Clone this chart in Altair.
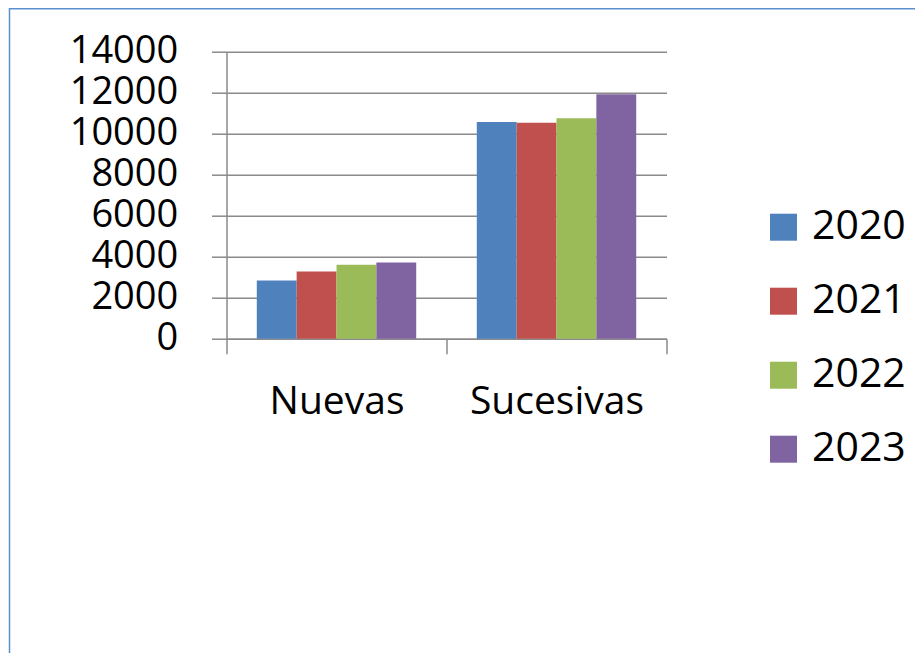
import altair as alt
import pandas as pd

categorias = ["Nuevas", "Sucesivas"]
anios = ["2020", "2021", "2022", "2023"]
nuevas = [2840, 3280, 3610, 3720]
sucesivas = [10570, 10540, 10750, 11920]
colores = ["#4F81BD", "#C0504D", "#9BBB59", "#8064A2"]
y_ticks = [0, 2000, 4000, 6000, 8000, 10000, 12000, 14000]

rows = []
for a, n, s in zip(anios, nuevas, sucesivas):
    rows.append({"categoria": "Nuevas", "anio": a, "valor": n})
    rows.append({"categoria": "Sucesivas", "anio": a, "valor": s})
df = pd.DataFrame(rows)

FONT = "Open Sans"
GRAY = "#8a8a8a"
PL, PT = 218.5, 43.7
W, H = 440, 287
TOTAL_W, TOTAL_H = 907, 645
PR = TOTAL_W - PL - W
PB = TOTAL_H - PT - H

bars = alt.Chart(df).mark_bar().encode(
    x=alt.X("categoria:N", sort=categorias,
            scale=alt.Scale(paddingInner=0, paddingOuter=0),
            axis=alt.Axis(title=None, labelAngle=0, tickBand="extent", tickSize=15,
                          labelPadding=29, labelFontSize=39, labelFont=FONT,
                          labelColor="black", domainColor=GRAY, tickColor=GRAY,
                          domainWidth=1.5, tickWidth=1.5, grid=False)),
    xOffset=alt.XOffset("anio:N", sort=anios,
                        scale=alt.Scale(paddingInner=0, paddingOuter=0.76)),
    y=alt.Y("valor:Q", scale=alt.Scale(domain=[0, 14000], nice=False),
            axis=alt.Axis(title=None, values=y_ticks, format="d", tickSize=15,
                          labelPadding=33.7, labelFontSize=38, labelFont=FONT,
                          labelColor="black", domainColor=GRAY, tickColor=GRAY,
                          gridColor=GRAY, gridWidth=1.5, domainWidth=1.5,
                          tickWidth=1.5, grid=True)),
    color=alt.Color("anio:N", sort=anios,
                    scale=alt.Scale(domain=anios, range=colores),
                    legend=alt.Legend(title=None, orient="none", legendX=536.5,
                                      legendY=155, symbolType="square",
                                      symbolSize=729, symbolStrokeWidth=0,
                                      labelFontSize=41, labelFont=FONT,
                                      labelColor="black", labelOffset=8,
                                      rowPadding=32, padding=0)),
)

border_data = alt.Data(values=[{"k": 1}])
left_border = alt.Chart(border_data).mark_rule(color="#5b8fd0", strokeWidth=1.5).encode(
    x=alt.value(-PL + 1.5), y=alt.value(-PT), y2=alt.value(H + PB))
top_border = alt.Chart(border_data).mark_rule(color="#5b8fd0", strokeWidth=1.5).encode(
    x=alt.value(-PL + 1.5), x2=alt.value(W + PR), y=alt.value(-PT + 0.75))

chart = alt.layer(bars, left_border, top_border).properties(
    width=W, height=H,
    autosize=alt.AutoSizeParams(type="none"),
    padding={"left": PL, "top": PT, "right": PR, "bottom": PB},
).configure_view(stroke=None)

chart.save("out.html", embed_options={"renderer": "svg", "actions": False})
